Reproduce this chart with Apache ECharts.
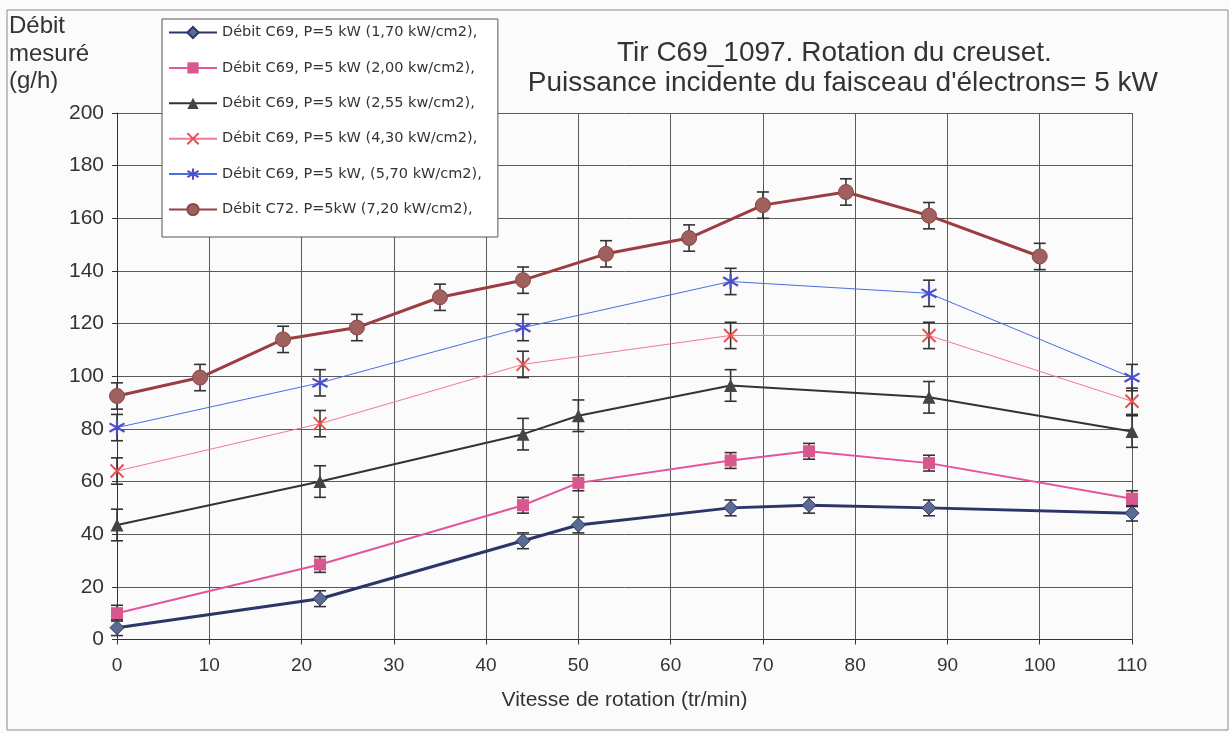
<!DOCTYPE html>
<html>
<head>
<meta charset="utf-8">
<script src="https://cdn.jsdelivr.net/npm/echarts@6/dist/echarts.min.js"></script>
<style>
html,body{margin:0;padding:0;background:#fbfbfb;}
#c{width:1229px;height:733px;}
</style>
</head>
<body>
<div id="c"></div>
<script>
// ---- data ----
const seriesNames = [
  "Débit C69, P=5 kW (1,70 kW/cm2),",
  "Débit C69, P=5 kW (2,00 kw/cm2),",
  "Débit C69, P=5 kW (2,55 kw/cm2),",
  "Débit C69, P=5 kW (4,30 kW/cm2),",
  "Débit C69, P=5 kW, (5,70 kW/cm2),",
  "Débit C72. P=5kW (7,20 kW/cm2),"
];
const xDiamond = [0, 22, 44, 50, 66.5, 75, 88, 110];
const yDiamond = [4.5, 15.5, 37.5, 43.5, 50, 51, 50, 48];
const eDiamond = [3, 3, 3, 3, 3, 3, 3, 3];
const xSquare = [0, 22, 44, 50, 66.5, 75, 88, 110];
const ySquare = [10, 28.5, 51, 59.5, 68, 71.5, 67, 53.5];
const eSquare = [3, 3, 3, 3, 3, 3, 3, 3];
const xTriangle = [0, 22, 44, 50, 66.5, 88, 110];
const yTriangle = [43.5, 60, 78, 85, 96.5, 92, 79];
const eTriangle = [6, 6, 6, 6, 6, 6, 6];
const xCross = [0, 22, 44, 66.5, 88, 110];
const yCross = [64, 82, 104.5, 115.5, 115.5, 90.5];
const eCross = [5, 5, 5, 5, 5, 5];
const xStar = [0, 22, 44, 66.5, 88, 110];
const yStar = [80.5, 97.5, 118.5, 136, 131.5, 99.5];
const eStar = [5, 5, 5, 5, 5, 5];
const xCircle = [0, 9, 18, 26, 35, 44, 53, 62, 70, 79, 88, 100];
const yCircle = [92.5, 99.5, 114, 118.5, 130, 136.5, 146.5, 152.5, 165, 170, 161, 145.5];
const eCircle = [5, 5, 5, 5, 5, 5, 5, 5, 5, 5, 5, 5];
const xTicks = [0, 10, 20, 30, 40, 50, 60, 70, 80, 90, 100, 110];
const yTicks = [0, 20, 40, 60, 80, 100, 120, 140, 160, 180, 200];
const titleLine1 = "Tir C69_1097. Rotation du creuset.";
const titleLine2 = "Puissance incidente du faisceau d'électrons= 5 kW";
const yAxisTitle = "Débit\nmesuré\n(g/h)";
const xAxisTitle = "Vitesse de rotation (tr/min)";

// ---- build ----
const pairs = (xs, ys) => xs.map((x, i) => [x, ys[i]]);
const errPairs = (xs, ys, es) => xs.map((x, i) => [x, ys[i], es[i]]);

const styles = [
  {symbol: 'diamond', size: 14, line: {color: '#2c3566', width: 3}, item: {color: '#5b6b92', borderColor: '#2c3566', borderWidth: 1}},
  {symbol: 'rect', size: 12, line: {color: '#e2559a', width: 2}, item: {color: '#d9578f', borderColor: '#d9578f', borderWidth: 0}},
  {symbol: 'triangle', size: 13, line: {color: '#333333', width: 2}, item: {color: '#444444', borderColor: '#333', borderWidth: 0}},
  {symbol: 'path://M0,0L10,10M10,0L0,10', size: 13, line: {color: '#f07a95', width: 1}, item: {color: 'rgba(0,0,0,0)', borderColor: '#e8504f', borderWidth: 2}},
  {symbol: 'path://M5,0L5,10M0,2.2L10,7.8M0,7.8L10,2.2', size: 15, line: {color: '#4a6fe0', width: 1}, item: {color: 'rgba(0,0,0,0)', borderColor: '#4a4fc8', borderWidth: 2.2}},
  {symbol: 'circle', size: 15, line: {color: '#9a3e42', width: 3}, item: {color: '#a0605e', borderColor: '#8a4848', borderWidth: 1}}
];
const lineData = [
  pairs(xDiamond, yDiamond), pairs(xSquare, ySquare), pairs(xTriangle, yTriangle),
  pairs(xCross, yCross), pairs(xStar, yStar), pairs(xCircle, yCircle)
];
const errData = [
  errPairs(xDiamond, yDiamond, eDiamond), errPairs(xSquare, ySquare, eSquare),
  errPairs(xTriangle, yTriangle, eTriangle), errPairs(xCross, yCross, eCross),
  errPairs(xStar, yStar, eStar), errPairs(xCircle, yCircle, eCircle)
];

const series = [];
errData.forEach((d, k) => {
  series.push({
    type: 'custom',
    name: 'err' + k,
    data: d,
    z: 3,
    silent: true,
    encode: {x: 0, y: [1]},
    renderItem: function (params, api) {
      const x = api.value(0), y = api.value(1), e = api.value(2);
      const top = api.coord([x, y + e]);
      const bot = api.coord([x, y - e]);
      const w = 6;
      const st = {stroke: '#333333', lineWidth: 1.6};
      return {
        type: 'group',
        children: [
          {type: 'line', shape: {x1: top[0], y1: top[1], x2: bot[0], y2: bot[1]}, style: st},
          {type: 'line', shape: {x1: top[0] - w, y1: top[1], x2: top[0] + w, y2: top[1]}, style: st},
          {type: 'line', shape: {x1: bot[0] - w, y1: bot[1], x2: bot[0] + w, y2: bot[1]}, style: st}
        ]
      };
    }
  });
});
lineData.forEach((d, k) => {
  const s = styles[k];
  series.push({
    type: 'line',
    name: seriesNames[k],
    data: d,
    z: 4,
    symbol: s.symbol,
    symbolSize: s.size,
    showAllSymbol: true,
    lineStyle: s.line,
    itemStyle: s.item,
    emphasis: {disabled: true},
    animation: false
  });
});

const chart = echarts.init(document.getElementById('c'), null, {renderer: 'canvas'});
chart.setOption({
  backgroundColor: '#fbfbfb',
  animation: false,
  title: [
    {text: titleLine1, left: 612, top: 34, textStyle: {fontFamily: 'Liberation Sans', fontSize: 28, fontWeight: 'normal', color: '#333'}},
    {text: titleLine2, right: 66, top: 64, textStyle: {fontFamily: 'Liberation Sans', fontSize: 28, fontWeight: 'normal', color: '#333'}},
    {text: yAxisTitle, left: 9, top: 13, padding: 0, textStyle: {fontFamily: 'Liberation Sans', fontSize: 24, lineHeight: 27.5, fontWeight: 'normal', color: '#333'}}
  ],
  graphic: [
    {type: 'rect', shape: {x: 7, y: 10, width: 1221, height: 720}, style: {fill: 'none', stroke: '#8a8a8a', lineWidth: 1}, z: 0, silent: true}
  ],
  legend: {
    data: seriesNames,
    orient: 'vertical',
    left: 162,
    top: 19,
    width: 335,
    padding: [6, 16, 20, 6],
    itemGap: 20.4,
    itemWidth: 48,
    itemHeight: 14,
    backgroundColor: '#ffffff',
    borderColor: '#555555',
    borderWidth: 1,
    borderRadius: 0,
    selectedMode: false,
    textStyle: {fontFamily: 'DejaVu Sans', fontSize: 14.5, color: '#333', padding: [0, 0, 0, 0]},
    z: 10
  },
  grid: {left: 117, right: 97, top: 113, bottom: 93.5, containLabel: false},
  xAxis: {
    type: 'value',
    min: 0, max: 110, interval: 10,
    name: xAxisTitle,
    nameLocation: 'middle',
    nameGap: 50,
    nameTextStyle: {fontFamily: 'Liberation Sans', fontSize: 21, color: '#333'},
    axisLine: {lineStyle: {color: '#333', width: 1}},
    axisTick: {show: true, inside: false, length: 5, lineStyle: {color: '#333'}},
    axisLabel: {fontFamily: 'Liberation Sans', fontSize: 19, color: '#333', margin: 17,
      formatter: v => xTicks.includes(v) ? String(v) : ''},
    splitLine: {show: true, lineStyle: {color: '#5a5a5a', width: 1}}
  },
  yAxis: {
    type: 'value',
    min: 0, max: 200, interval: 20,
    axisLine: {show: true, lineStyle: {color: '#333', width: 1}},
    axisTick: {show: true, inside: false, length: 5, lineStyle: {color: '#333'}},
    axisLabel: {fontFamily: 'Liberation Sans', fontSize: 21, color: '#333', margin: 13,
      formatter: v => yTicks.includes(v) ? String(v) : ''},
    splitLine: {show: true, lineStyle: {color: '#5a5a5a', width: 1}}
  },
  series: series
});
</script>
</body>
</html>
